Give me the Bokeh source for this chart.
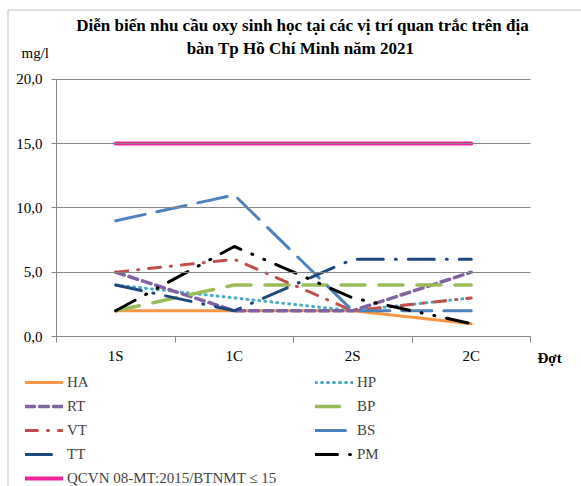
from bokeh.plotting import figure
from bokeh.models import (Label, Legend, LegendItem, FixedTicker, Range1d, BoxAnnotation)
from bokeh.embed import file_html
from bokeh.resources import INLINE

# ---- data ----
categories = ["1S", "1C", "2S", "2C"]
HA = [2, 2, 2, 1]
HP = [4, 3, 2, 3]
RT = [5, 2, 2, 5]
BP = [2, 4, 4, 4]
VT = [5, 6, 2, 3]
BS = [9, 11, 2, 2]
TT = [4, 2, 6, 6]
PM = [2, 7, 3, 1]
QCVN = [15, 15, 15, 15]
y_ticks = [0, 5, 10, 15, 20]
y_tick_labels = ["0,0", "5,0", "10,0", "15,0", "20,0"]
title_lines = ["Diễn biến nhu cầu oxy sinh học tại các vị trí quan trắc trên địa",
               "bàn Tp Hồ Chí Minh năm 2021"]
y_unit = "mg/l"
x_name = "Đợt"

# ---- layout (pixels) ----
W, H = 581, 486
AX_L, AX_R = 56, 530        # pixel x of plot-area left / right
AX_B, AX_T = 336, 78.7      # pixel y of value 0 / value 20
FONT = "Liberation Serif"
GRID = "#868686"

n = len(categories)
ymax = y_ticks[-1]
xs = [i + 0.5 for i in range(n)]
ppx = (AX_R - AX_L) / n
ppy = (AX_B - AX_T) / ymax
x_range = Range1d(-AX_L / ppx, n + (W - AX_R) / ppx)
y_range = Range1d(-(H - AX_B) / ppy, ymax + AX_T / ppy)

p = figure(width=W, height=H, x_range=x_range, y_range=y_range,
           output_backend="svg", toolbar_location=None,
           min_border_left=0, min_border_right=0, min_border_top=0, min_border_bottom=0)
p.outline_line_color = None
p.background_fill_color = "white"
p.border_fill_color = "white"
p.xgrid.visible = False
p.ygrid.visible = False

ya = p.yaxis[0]
ya.fixed_location = 0
ya.bounds = (0, ymax)
ya.ticker = FixedTicker(ticks=y_ticks)
ya.major_label_overrides = {t: l for t, l in zip(y_ticks, y_tick_labels)}
ya.axis_line_color = GRID
ya.major_tick_line_color = GRID
ya.major_tick_out = 5
ya.major_tick_in = AX_R - AX_L   # ticks run across the plot = horizontal gridlines
ya.minor_tick_line_color = None
ya.major_label_standoff = 9
ya.major_label_text_font = FONT
ya.major_label_text_font_size = "15px"
ya.major_label_text_color = "black"

xa = p.xaxis[0]
xa.fixed_location = 0
xa.bounds = (0, n)
xa.ticker = FixedTicker(ticks=xs, minor_ticks=list(range(n + 1)))
xa.major_label_overrides = {x: c for x, c in zip(xs, categories)}
xa.axis_line_color = GRID
xa.major_tick_line_color = None
xa.major_tick_out = 6
xa.major_tick_in = 0
xa.minor_tick_line_color = GRID
xa.minor_tick_out = 6
xa.minor_tick_in = 0
xa.major_label_standoff = 5
xa.major_label_text_font = FONT
xa.major_label_text_font_size = "15px"
xa.major_label_text_color = "black"

QNAME = "QCVN 08-MT:2015/BTNMT ≤ 15"
series = [
    ("HA", HA, "#F79646", None, 3),
    ("HP", HP, "#4BACC6", "1 5", 3),
    ("RT", RT, "#8064A2", "9 5", 3.5),
    ("BP", BP, "#9BBB59", "24 14", 3.5),
    ("VT", VT, "#C0504D", "12 10 1 10", 3),
    ("BS", BS, "#4F81BD", "30 12", 3),
    ("TT", TT, "#1F497D", "26 12 1 12", 3),
    ("PM", PM, "#000000", "22 12 1 12 1 12", 3),
    (QNAME, QCVN, "#F0259A", None, 4),
]

items = {}
for name, ys, col, dash, w in series:
    kw = dict(line_color=col, line_width=w, line_cap="round")
    if dash:
        kw["line_dash"] = dash
    r = p.line(xs, ys, **kw)
    items[name] = LegendItem(label=name, renderers=[r])

col1 = ["HA", "RT", "VT", "TT", QNAME]
col2 = ["HP", "BP", "BS", "PM"]
ROW_TOP = 372
ROW_H, ROW_SP = 20, 4


def make_legend(names, left_px):
    bottom_px = ROW_TOP + len(names) * ROW_H + (len(names) - 1) * ROW_SP
    lg = Legend(items=[items[nm] for nm in names], location=(left_px, H - bottom_px),
                orientation="vertical", padding=0, margin=0, spacing=ROW_SP,
                glyph_width=38, glyph_height=ROW_H, label_height=ROW_H, label_standoff=4,
                label_text_font=FONT, label_text_font_size="15px",
                border_line_color=None, background_fill_alpha=0)
    p.add_layout(lg, "center")


make_legend(col1, 25)
make_legend(col2, 315)


def lab(text, x_px, base_px, bold=False, size="15px", align="left"):
    p.add_layout(Label(x=x_px, y=H - base_px, x_units="screen", y_units="screen", text=text,
                       text_font=FONT, text_font_size=size,
                       text_font_style="bold" if bold else "normal",
                       text_align=align, text_baseline="alphabetic", text_color="black"))


lab(title_lines[0], 302, 25, bold=True, size="17px", align="center")
lab(title_lines[1], 300, 48, bold=True, size="17px", align="center")
lab(y_unit, 21, 52)
lab(x_name, 537, 357, bold=True)

# chart-area border (left and top edges visible in the picture)
p.add_layout(BoxAnnotation(left=7.5, right=W + 20, bottom=-20, top=H - 9.5,
                           left_units="screen", right_units="screen",
                           bottom_units="screen", top_units="screen",
                           fill_alpha=0, line_color="#333333", line_width=1))

open("out.html", "w").write(file_html(p, INLINE))
